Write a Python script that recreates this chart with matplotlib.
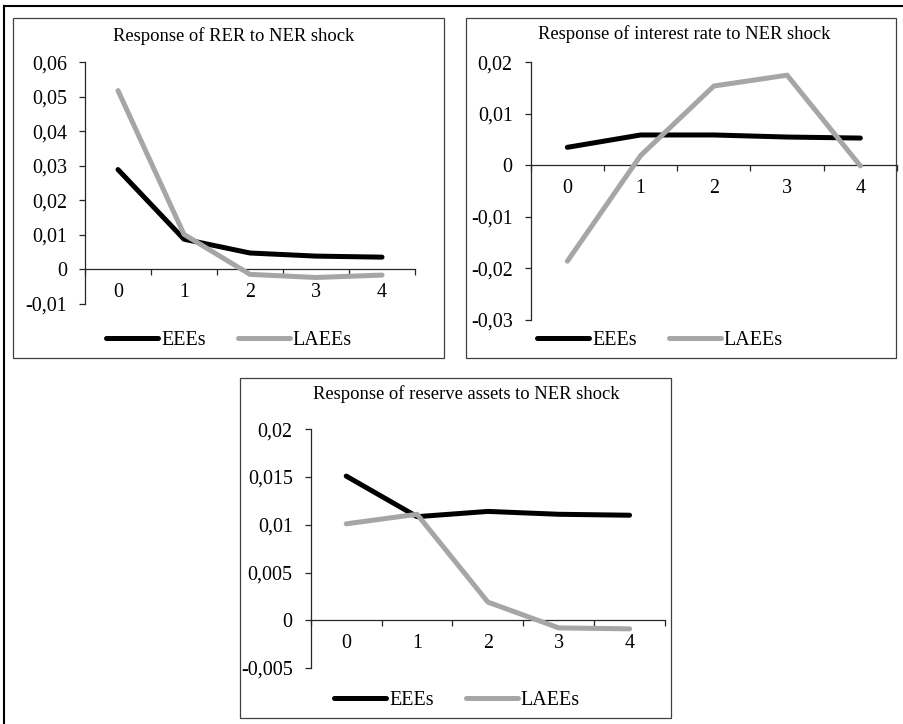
import matplotlib
matplotlib.use("Agg")
import matplotlib.pyplot as plt
from matplotlib.patches import Rectangle
from matplotlib.lines import Line2D

plt.rcParams['font.family'] = ['Liberation Serif', 'DejaVu Serif']

periods = [0, 1, 2, 3, 4]
series_names = ["EEEs", "LAEEs"]

rer_eee = [0.0289, 0.0087, 0.0047, 0.0038, 0.0035]
rer_laee = [0.0518, 0.0101, -0.0015, -0.0024, -0.0017]

ir_eee = [0.0035, 0.0059, 0.0059, 0.0055, 0.0053]
ir_laee = [-0.0186, 0.0019, 0.0154, 0.0175, -0.0001]

ra_eee = [0.0151, 0.01085, 0.0114, 0.0111, 0.0110]
ra_laee = [0.0101, 0.0111, 0.0019, -0.0008, -0.0009]

titles = ["Response of RER to NER shock",
          "Response of interest rate to NER shock",
          "Response of reserve assets to NER shock"]

yticks1 = [-0.01, 0, 0.01, 0.02, 0.03, 0.04, 0.05, 0.06]
yticklabels1 = ["-0,01", "0", "0,01", "0,02", "0,03", "0,04", "0,05", "0,06"]
yticks2 = [-0.03, -0.02, -0.01, 0, 0.01, 0.02]
yticklabels2 = ["-0,03", "-0,02", "-0,01", "0", "0,01", "0,02"]
yticks3 = [-0.005, 0, 0.005, 0.01, 0.015, 0.02]
yticklabels3 = ["-0,005", "0", "0,005", "0,01", "0,015", "0,02"]

W, H = 904, 724
fig = plt.figure(figsize=(W / 100, H / 100), dpi=100)

def fx(px):
    return px / W

def fy(py):
    return 1 - py / H

BLACK = "#000000"
GRAY = "#A6A6A6"
FS = 14.4
TFS = 13.4

# outer border (top and left only)
fig.add_artist(Line2D([fx(4.3), fx(904)], [fy(6.3), fy(6.3)], transform=fig.transFigure, color="black", lw=1.5))
fig.add_artist(Line2D([fx(4.3), fx(4.3)], [fy(6.3), fy(724)], transform=fig.transFigure, color="black", lw=1.5))

def panel(box, axrect, eee, laee, yticks, ylabels, title, title_xy, leg_xy):
    bx0, by0, bx1, by1 = box
    fig.add_artist(Rectangle((fx(bx0), fy(by1)), fx(bx1 - bx0), (by1 - by0) / H,
                             transform=fig.transFigure, fill=False, edgecolor="#404040", lw=0.9))
    x0, y0, x1, y1 = axrect
    ax = fig.add_axes([fx(x0), fy(y1), fx(x1 - x0), (y1 - y0) / H])
    ax.patch.set_alpha(0)
    l1, = ax.plot(periods, eee, color=BLACK, lw=3.6, solid_capstyle='round', solid_joinstyle='round', label=series_names[0], zorder=3)
    l2, = ax.plot(periods, laee, color=GRAY, lw=3.6, solid_capstyle='round', solid_joinstyle='round', label=series_names[1], zorder=3)
    ax.set_xlim(-0.5, 4.5)
    ax.set_ylim(yticks[0], yticks[-1])
    for s in ["top", "right"]:
        ax.spines[s].set_visible(False)
    ax.spines["bottom"].set_position(("data", 0))
    ax.spines["left"].set_color("#262626")
    ax.spines["bottom"].set_color("#262626")
    ax.spines["left"].set_linewidth(0.9)
    ax.spines["bottom"].set_linewidth(0.9)
    ax.set_yticks(yticks)
    ax.set_yticklabels(ylabels)
    ax.set_xticks([-0.5, 0.5, 1.5, 2.5, 3.5, 4.5])
    ax.set_xticklabels([])
    ax.set_xticks(periods, minor=True)
    ax.set_xticklabels([str(p) for p in periods], minor=True)
    ax.tick_params(axis="x", which="major", direction="out", length=4, width=0.9, color="#262626")
    ax.tick_params(axis="x", which="minor", length=0, pad=10, labelsize=FS)
    ax.tick_params(axis="y", direction="out", length=4, width=0.9, color="#262626", pad=9, labelsize=FS)
    fig.text(fx(title_xy[0]), fy(title_xy[1]), title, ha="center", va="center", fontsize=TFS)
    ax.legend(handles=[l1, l2], loc="center", bbox_to_anchor=(fx(leg_xy[0]), fy(leg_xy[1])),
              bbox_transform=fig.transFigure, ncol=2, frameon=False, fontsize=FS,
              handlelength=2.6, handletextpad=0.15, columnspacing=1.6, borderpad=0, borderaxespad=0)
    return ax

panel((13, 18, 444, 358), (85, 62.3, 415, 303.7), rer_eee, rer_laee, yticks1, yticklabels1,
      titles[0], (233.5, 36), (229, 340.7))
panel((466, 18, 896, 358), (530.7, 62.3, 897, 320), ir_eee, ir_laee, yticks2, yticklabels2,
      titles[1], (683.7, 34), (660, 340.7))
panel((240, 378, 671, 718), (310.8, 429.3, 665, 668), ra_eee, ra_laee, yticks3, yticklabels3,
      titles[2], (466, 394), (457, 700.7))

fig.savefig("out.png", dpi=100)
